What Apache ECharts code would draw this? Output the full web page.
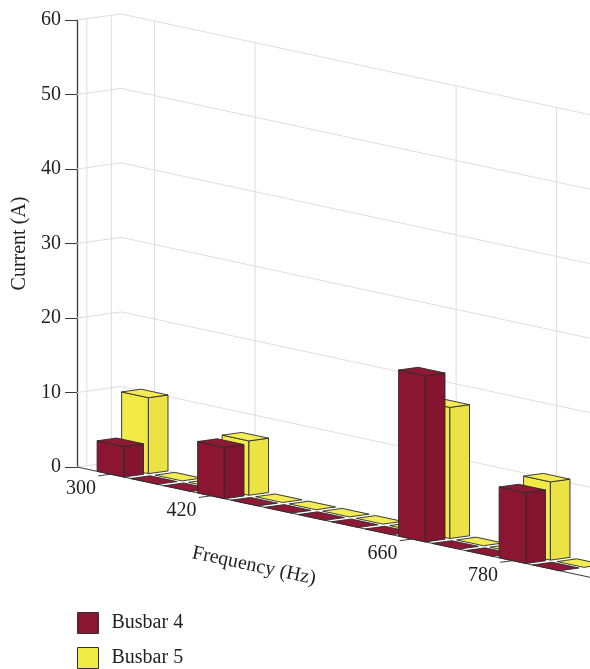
<!DOCTYPE html>
<html>
<head>
<meta charset="utf-8">
<script src="https://cdn.jsdelivr.net/npm/echarts@6/dist/echarts.min.js"></script>
<style>
  html, body { margin: 0; padding: 0; background: #ffffff; }
  #chart { width: 590px; height: 669px; }
</style>
</head>
<body>
<div id="chart"></div>
<script>
// Harmonic currents per busbar, one bar per frequency bin
const FREQUENCIES = [300, 340, 380, 420, 460, 500, 540, 580, 620, 660, 700, 740, 780, 820];
const BUSBAR_4 = [4.1, 0, 0, 6.9, 0, 0, 0, 0, 0, 22.3, 0, 0, 9.5, 0];
const BUSBAR_5 = [10.2, 0, 0, 7.3, 0, 0, 0, 0, 0, 17.6, 0, 0, 10.5, 0];
const FREQ_TICKS = [300, 420, 660, 780];
const CURRENT_TICKS = [0, 10, 20, 30, 40, 50, 60];
const SERIES_NAMES = ['Busbar 4', 'Busbar 5'];

// Oblique 3-D look: frequency runs along the x axis, current along the y axis,
// and the busbar rows recede into the page as a pixel offset per row.
const F_MIN = 260, F_MAX = 860, F_WALL_END = 980;
const HALF_W = 16;          // half bar width in Hz
const BAR_DEPTH = 0.8;      // bar depth in row units
const BACK = 1.8;           // back wall position in row units
const ROW_DX = 24.5, ROW_DY = -3.4;
const SHEAR = 0.215;        // floor slope along the frequency direction

const FONT = 'Liberation Serif';
const TEXT = '#231f20';
const EDGE = '#2a2a2a';
const GRID = '#dedede';
const RED = { front: '#8c1632', side: '#84142f', top: '#8f1834' };
const YELLOW = { front: '#f2ea47', side: '#ebe243', top: '#f4ec55' };

function project(api, f, d, v) {
  const p = api.coord([f, v]);
  const o = api.coord([F_MIN, 0]);
  return [p[0] + d * ROW_DX, p[1] + (p[0] - o[0]) * SHEAR + d * ROW_DY];
}

function poly(points, fill, z2) {
  return {
    type: 'polygon', z2: z2,
    shape: { points: points },
    style: { fill: fill, stroke: EDGE, lineWidth: 0.9, lineJoin: 'round' }
  };
}

function seg(a, b, color, width) {
  return {
    type: 'line',
    shape: { x1: a[0], y1: a[1], x2: b[0], y2: b[1] },
    style: { stroke: color, lineWidth: width }
  };
}

function makeBarRenderer(row, colors) {
  return function (params, api) {
    const f = api.value(0), v = api.value(1);
    const d0 = row, d1 = row + BAR_DEPTH;
    const l = f - HALF_W, r = f + HALF_W;
    const P = (ff, dd, vv) => project(api, ff, dd, vv);
    const base = params.dataIndex * 3;
    const kids = [];
    if (v > 0) {
      kids.push(poly([P(l, d0, 0), P(r, d0, 0), P(r, d0, v), P(l, d0, v)], colors.front, base));
      kids.push(poly([P(r, d0, 0), P(r, d1, 0), P(r, d1, v), P(r, d0, v)], colors.side, base + 1));
    }
    kids.push(poly([P(l, d0, v), P(r, d0, v), P(r, d1, v), P(l, d1, v)], colors.top, base + 2));
    return { type: 'group', children: kids };
  };
}

const zTop = CURRENT_TICKS[CURRENT_TICKS.length - 1];

// Horizontal grid lines on the left and back walls
function renderWallLevels(params, api) {
  const v = api.value(1);
  const a = project(api, F_MIN, 0, v);
  const b = project(api, F_MIN, BACK, v);
  const c = project(api, F_WALL_END, BACK, v);
  return { type: 'group', children: [seg(a, b, GRID, 1), seg(b, c, GRID, 1)] };
}

// Vertical grid lines on the left wall, one per busbar row
function renderRowLines(params, api) {
  const d = api.value(1) + BAR_DEPTH / 2;
  return seg(project(api, F_MIN, d, 0), project(api, F_MIN, d, zTop), GRID, 1);
}

// Frequency ticks: back-wall grid line, tick mark and label
function renderFreqTicks(params, api) {
  const f = api.value(0);
  const front = project(api, f, 0, 0);
  const tickEnd = project(api, f, -0.5, 0);
  return {
    type: 'group',
    children: [
      seg(project(api, f, BACK, 0), project(api, f, BACK, zTop), GRID, 1),
      seg(front, tickEnd, '#3a3a3a', 1),
      {
        type: 'text', x: front[0] - 29.5, y: front[1] + 15,
        style: { text: String(f), font: '20px "' + FONT + '"', fill: TEXT, align: 'center', verticalAlign: 'middle' }
      }
    ]
  };
}

// Front floor edge (frequency axis line)
function renderFreqAxis(params, api) {
  return seg(project(api, F_MIN, 0, 0), project(api, F_WALL_END, 0, 0), '#3a3a3a', 1);
}

const chart = echarts.init(document.getElementById('chart'), null, { renderer: 'canvas' });

chart.setOption({
  animation: false,
  backgroundColor: '#ffffff',
  grid: { left: 77, top: 20, height: 447, width: 502.5, containLabel: false },
  xAxis: { type: 'value', min: F_MIN, max: F_MAX, show: false },
  yAxis: {
    type: 'value', min: 0, max: 60, interval: 10,
    name: 'Current (A)', nameLocation: 'middle', nameGap: 47,
    nameTextStyle: { fontFamily: FONT, fontSize: 20, color: TEXT },
    axisLine: { show: true, lineStyle: { color: '#3a3a3a', width: 1.3 } },
    axisTick: { show: true, length: 12, lineStyle: { color: '#3a3a3a', width: 1 } },
    axisLabel: { fontFamily: FONT, fontSize: 20, color: TEXT, margin: 16 },
    splitLine: { show: false }
  },
  legend: {
    data: SERIES_NAMES,
    orient: 'vertical', left: 77, top: 612, height: 60, padding: 0,
    itemWidth: 21, itemHeight: 21, itemGap: 13,
    icon: 'rect',
    itemStyle: { borderColor: '#333333', borderWidth: 1 },
    textStyle: { fontFamily: FONT, fontSize: 20, color: TEXT, lineHeight: 21, padding: [0, 0, 0, 8] }
  },
  graphic: [{
    type: 'text', x: 254, y: 566, rotation: -Math.atan(SHEAR),
    style: { text: 'Frequency (Hz)', font: '20px "' + FONT + '"', fill: TEXT, align: 'center', verticalAlign: 'middle' }
  }],
  series: [
    {
      type: 'custom', name: 'wall levels', z: 1, silent: true,
      data: CURRENT_TICKS.map(v => [F_MIN, v]),
      renderItem: renderWallLevels
    },
    {
      type: 'custom', name: 'row lines', z: 1, silent: true,
      data: SERIES_NAMES.map((n, i) => [F_MIN, i]),
      renderItem: renderRowLines
    },
    {
      type: 'custom', name: 'frequency ticks', z: 1, silent: true,
      data: FREQ_TICKS.map(f => [f, 0]),
      renderItem: renderFreqTicks
    },
    {
      type: 'custom', name: 'frequency axis', z: 1, silent: true,
      data: [[F_MIN, 0]],
      renderItem: renderFreqAxis
    },
    {
      type: 'custom', name: SERIES_NAMES[1], z: 2, silent: true,
      itemStyle: { color: YELLOW.front, borderColor: '#333333', borderWidth: 1 },
      data: FREQUENCIES.map((f, i) => [f, BUSBAR_5[i]]),
      renderItem: makeBarRenderer(1, YELLOW)
    },
    {
      type: 'custom', name: SERIES_NAMES[0], z: 3, silent: true,
      itemStyle: { color: RED.front, borderColor: '#333333', borderWidth: 1 },
      data: FREQUENCIES.map((f, i) => [f, BUSBAR_4[i]]),
      renderItem: makeBarRenderer(0, RED)
    }
  ]
});
</script>
</body>
</html>
